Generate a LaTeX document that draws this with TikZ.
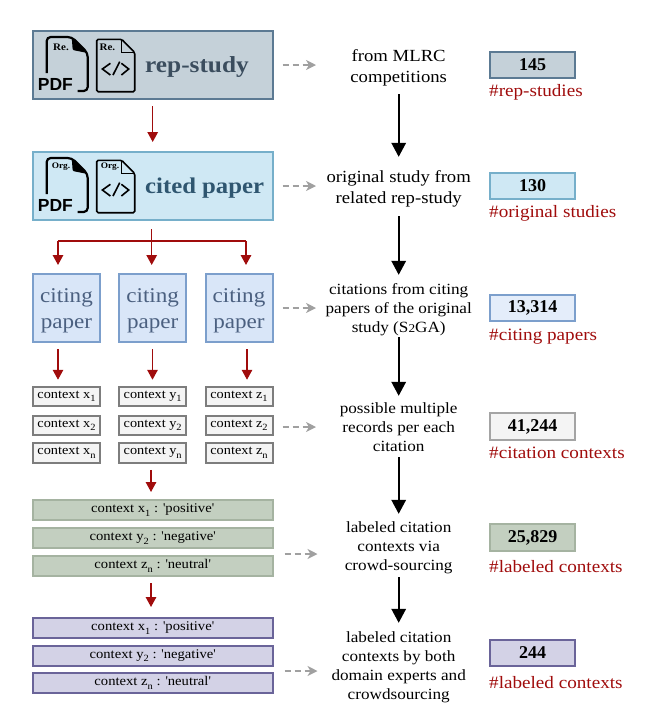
\documentclass[tikz,border=0pt]{standalone}
\usepackage{fontspec}
\setmainfont[FakeStretch=1.1]{Liberation Serif}
\newfontfamily\numf{Liberation Serif}
\newfontfamily\pdff{Liberation Sans}
\usetikzlibrary{arrows.meta}
\newcommand{\fsz}[2]{\fontsize{#1}{#2}\selectfont}
\newcommand{\sbs}[1]{\raisebox{-3.5pt}{\fsz{9.5}{10}#1}}
\newcommand{\sq}{{\numf'}}
\newcommand{\citingtxt}{\raisebox{-7pt}[0pt][0pt]{citing}\\\raisebox{-7pt}[0pt][0pt]{paper}}
\definecolor{redc}{HTML}{A00C0C}
\definecolor{grayc}{HTML}{A0A0A0}
\definecolor{citeB}{HTML}{7C9FCC}\definecolor{citeF}{HTML}{D9E6F8}\definecolor{citeT}{HTML}{4B6080}
\definecolor{ctxB}{HTML}{7D7D7D}\definecolor{ctxF}{HTML}{F4F4F4}
\definecolor{repB}{HTML}{5C7A93}\definecolor{repF}{HTML}{C5D1D9}\definecolor{repT}{HTML}{3B4D5E}
\definecolor{ciB}{HTML}{76AFCA}\definecolor{ciF}{HTML}{CFE8F4}\definecolor{ciT}{HTML}{2F5670}
\definecolor{grB}{HTML}{A5B3A1}\definecolor{grF}{HTML}{C3CFC0}
\definecolor{puB}{HTML}{6A6499}\definecolor{puF}{HTML}{D3D2E6}
\tikzset{
  x=1pt,y=-1pt,
  boxbase/.style={rectangle,inner sep=0pt,line width=2pt},
  bigbox/.style 2 args={boxbase,draw=#1,fill=#2,minimum width=240pt,minimum height=68pt},
  citebox/.style={boxbase,draw=citeB,fill=citeF,minimum width=67pt,minimum height=68pt,align=center,text=citeT,font=\fsz{21}{26}},
  ctxbox/.style={boxbase,draw=ctxB,fill=ctxF,minimum width=67pt,minimum height=19.5pt,font=\fsz{13}{14}},
  widebox/.style 2 args={boxbase,draw=#1,fill=#2,minimum width=240pt,minimum height=20pt,font=\fsz{13.3}{14}},
  numbox/.style 2 args={boxbase,draw=#1,fill=#2,minimum width=85.5pt,minimum height=26.5pt,font=\numf\bfseries\fsz{18}{20}},
  desc/.style 2 args={inner sep=0pt,align=center,font=\fsz{#1}{#2}},
  lab/.style={inner sep=0pt,anchor=base west,text=redc,font=\fsz{17.4}{18}},
  redarr/.style={draw=redc,line width=1.5pt,-{Triangle[length=10pt,width=10.5pt]}},
  redline/.style={draw=redc,line width=1.5pt},
  blackarr/.style={draw=black,line width=1.6pt,-{Triangle[length=14pt,width=14.5pt]}},
  grayarr/.style={draw=grayc,line width=1.3pt,dash pattern=on 6pt off 4pt,-{Stealth[length=10pt,width=10pt,inset=3pt]}},
  pics/docicons/.style n args={4}{code={
    \draw[line width=2.2pt,rounded corners=4pt] (15,43) -- (15,7) -- (40,7) -- (56,23) -- (56,61) -- (46,61);
    \fill[black,rounded corners=1pt] (40,7) -- (41,20) -- (56,23) -- cycle;
    \node[inner sep=0pt,font=\pdff\bfseries\fsz{17.5}{20}] (pdf) at (23.7,54.3) {PDF};
    \draw[line width=1.6pt,rounded corners=1.5pt] (65,9.3) -- (65,61.7) -- (103,61.7) -- (103,22.5) -- (90,9.3) -- cycle;
    \draw[line width=1.2pt] (90,9.3) -- (90,22.5) -- (103,22.5);
    \draw[line width=1.6pt] (78.7,33.3) -- (70.7,39) -- (78.7,45);
    \draw[line width=1.6pt] (88,31.7) -- (81.3,45);
    \draw[line width=1.6pt] (89.7,33.3) -- (97,39) -- (89.7,45);
    \node[inner sep=0pt,font=\bfseries\fsz{#2}{10}] (a) at (29.3,#4) {#1};
    \node[inner sep=0pt,font=\bfseries\fsz{#2}{10}] (b) at (#3,#4) {#1};
  }},
}
\begin{document}
\begin{tikzpicture}
\useasboundingbox (0,0) rectangle (653,724);
% left column
\node[bigbox={repB}{repF}] (rep) at (152.7,65) {};
\node[bigbox={ciB}{ciF}] (cited) at (152.7,186) {};
\pic (icR) at (rep.north west) {docicons={Re.}{10}{75.7}{17.3}};
\pic (icO) at (cited.north west) {docicons={Org.}{8.5}{78.3}{15.7}};
\node[inner sep=0pt,anchor=west,font=\bfseries\fsz{23}{26},text=repT] (repTx) at (145,67) {rep-study};
\node[inner sep=0pt,anchor=west,font=\bfseries\fsz{22.5}{26},text=ciT] (citTx) at (145,188) {cited paper};
\node[citebox] (c1) at (66.5,308) {\citingtxt};
\node[citebox] (c2) at (152.7,308) {\citingtxt};
\node[citebox] (c3) at (239,308) {\citingtxt};
\foreach \n/\cx/\v in {x/66.5/x,y/152.7/y,z/239/z}{
  \node[ctxbox] (\n1) at (\cx,396.5) {context \v\sbs{1}};
  \node[ctxbox] (\n2) at (\cx,425.5) {context \v\sbs{2}};
  \node[ctxbox] (\n3) at (\cx,453) {context \v\sbs{n}};
}
\node[widebox={grB}{grF}] (g1) at (152.7,510) {context x\sbs{1} : \sq positive\sq};
\node[widebox={grB}{grF}] (g2) at (152.7,538) {context y\sbs{2} : \sq negative\sq};
\node[widebox={grB}{grF}] (g3) at (152.7,566) {context z\sbs{n} : \sq neutral\sq};
\node[widebox={puB}{puF}] (p1) at (152.7,628) {context x\sbs{1} : \sq positive\sq};
\node[widebox={puB}{puF}] (p2) at (152.7,655.5) {context y\sbs{2} : \sq negative\sq};
\node[widebox={puB}{puF}] (p3) at (152.7,683) {context z\sbs{n} : \sq neutral\sq};
% red connectors
\draw[redarr,shorten <=6pt,shorten >=9pt] (rep.south) -- (cited.north);
\coordinate (br) at (151.7,241);
\coordinate (brL) at (58,241);
\coordinate (brR) at (246,241);
\draw[redline,shorten <=8pt] (cited.south -| br) -- (br);
\draw[redline] (brL) -- (brR);
\draw[redarr,shorten >=8pt] (brL) -- (brL |- c1.north);
\draw[redarr,shorten >=8pt] (br) -- (br |- c2.north);
\draw[redarr,shorten >=8pt] (brR) -- (brR |- c3.north);
\coordinate (dL) at (58,0);\coordinate (dM) at (152.5,0);\coordinate (dR) at (247,0);
\draw[redarr,shorten <=6pt,shorten >=6pt] (dL |- c1.south) -- (dL |- x1.north);
\draw[redarr,shorten <=6pt,shorten >=6pt] (dM |- c2.south) -- (dM |- y1.north);
\draw[redarr,shorten <=6pt,shorten >=6pt] (dR |- c3.south) -- (dR |- z1.north);
\coordinate (dN) at (151,0);
\draw[redarr,shorten <=6pt,shorten >=7pt] (dN |- y3.south) -- (dN |- g1.north);
\draw[redarr,shorten <=6pt,shorten >=10pt] (dN |- g3.south) -- (dN |- p1.north);
% descriptions
\node[desc={17}{21},minimum height=50pt] (t1) at (398.7,67.5) {from MLRC\\competitions};
\node[desc={17}{21},minimum height=50pt] (t2) at (398.7,189) {original study from\\related rep-study};
\node[desc={15.6}{19},minimum height=58pt] (t3) at (398.7,310) {citations from citing\\papers of the original\\study (S{\fsz{12}{19}2}GA)};
\node[desc={15.6}{19},minimum height=58pt] (t4) at (398.7,427) {possible multiple\\records per each\\citation};
\node[desc={15.6}{19},minimum height=58pt] (t5) at (398.7,548) {labeled citation\\contexts via\\crowd-sourcing};
\node[desc={15.6}{19},minimum height=76pt] (t6) at (398.7,667.5) {labeled citation\\contexts by both\\domain experts and\\crowdsourcing};
\draw[blackarr,shorten <=1.5pt,shorten >=7pt] (t1.south) -- (t2.north);
\draw[blackarr,shorten <=2pt,shorten >=6pt] (t2.south) -- (t3.north);
\draw[blackarr,shorten <=-2pt,shorten >=2pt] (t3.south) -- (t4.north);
\draw[blackarr,shorten <=1pt,shorten >=5pt] (t4.south) -- (t5.north);
\draw[blackarr,shorten >=6.5pt] (t5.south) -- (t6.north);
% dashed connectors
\coordinate (e1) at (316,65);
\coordinate (e2) at (316,186);
\coordinate (e3) at (316,308);
\coordinate (e4) at (316,427);
\coordinate (e5) at (317.5,554);
\coordinate (e6) at (317.5,671);
\draw[grayarr,shorten <=9pt] (rep.east |- e1) -- (e1);
\draw[grayarr,shorten <=9pt] (cited.east |- e2) -- (e2);
\draw[grayarr,shorten <=9pt] (c3.east |- e3) -- (e3);
\draw[grayarr,shorten <=9pt] (z2.east |- e4) -- (e4);
\draw[grayarr,shorten <=11pt] (g3.east |- e5) -- (e5);
\draw[grayarr,shorten <=11pt] (p3.east |- e6) -- (e6);
% counts
\node[numbox={repB}{repF}] (n1) at (532.5,65) {145};
\node[numbox={ciB}{ciF}] (n2) at (532.5,186) {130};
\node[numbox={citeB}{citeF!70!white}] (n3) at (532.5,308) {13,314};
\node[numbox={ctxB!70!white}{ctxF}] (n4) at (532.5,426.5) {41,244};
\node[numbox={grB}{grF}] (n5) at (532.5,537.5) {25,829};
\node[numbox={puB}{puF}] (n6) at (532.5,653) {244};
\node[lab] (l1) at (489,96.7) {\#rep-studies};
\node[lab] (l2) at (489,217) {\#original studies};
\node[lab] (l3) at (489,340) {\#citing papers};
\node[lab] (l4) at (489,458) {\#citation contexts};
\node[lab] (l5) at (489,572) {\#labeled contexts};
\node[lab] (l6) at (489,688) {\#labeled contexts};
\end{tikzpicture}
\end{document}
